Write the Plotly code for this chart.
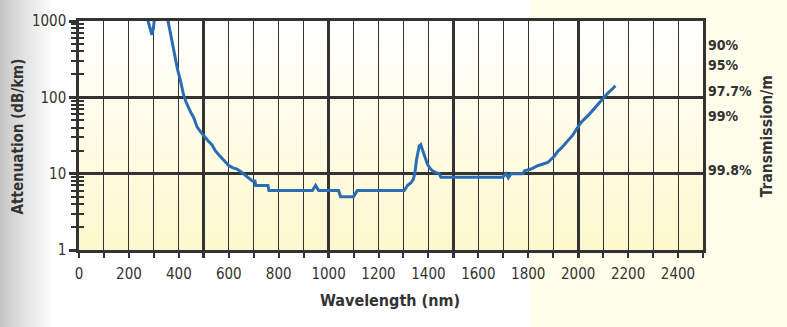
import plotly.graph_objects as go

# Attenuation spectrum of the fibre (dB/km versus wavelength in nm)
wavelength_nm = [
    270, 283, 292, 298, 303,
    352, 358, 365, 372, 379, 386, 395, 406, 412, 419, 428, 439, 448, 459, 466,
    473, 488, 502, 517, 533, 546, 559, 572, 586, 600, 615, 633, 650, 665, 680,
    695, 705, 708, 757, 761, 935, 948, 960, 1040, 1048, 1100, 1115, 1303, 1316,
    1330, 1340, 1346, 1352, 1358, 1363, 1369, 1375, 1383, 1396, 1406, 1416, 1430,
    1443, 1450, 1697, 1711, 1720, 1731, 1778, 1785, 1811, 1838, 1865, 1878, 1905,
    1918, 1932, 1955, 1978, 1995, 2012, 2045, 2072, 2099, 2119, 2135, 2149,
]
attenuation_db_km = [
    1200, 850, 660, 800, 1150,
    1200, 950, 760, 595, 430, 316, 230, 168, 135, 108, 88, 73, 63, 55, 47,
    41, 35, 30.5, 27, 23.8, 20, 17.8, 16, 14, 12.8, 12, 11.5, 10.5, 9.5, 8.6,
    8.0, 8.0, 7.0, 7.0, 6.0, 6.0, 7.0, 6.0, 6.0, 5.0, 5.0, 6.0, 6.0, 7.0,
    7.6, 8.5, 10.4, 15, 20, 23, 24, 21, 17, 13.3, 11.8, 10.9, 10.3,
    10.0, 9.0, 9.0, 10.0, 8.8, 10.0, 10.0, 10.9, 11.5, 12.7, 13.5, 14, 17,
    19.6, 21.6, 26, 31.9, 39, 47.3, 60.3, 77, 98, 114, 127, 142,
]

# Axis ticks
x_tick_vals = list(range(0, 2501, 100))
x_tick_text = [str(v) if v % 200 == 0 and v <= 2400 else "" for v in x_tick_vals]
x_major_vals = [500, 1000, 1500, 2000]
y_decades = [1, 10, 100, 1000]
y_minor_vals = [m * d for d in (1, 10, 100) for m in range(2, 10)]

# Transmission per metre shown on the right-hand axis
transmission_labels = ["90%", "95%", "97.7%", "99%", "99.8%"]
transmission_at_db_km = [485, 265, 120, 56, 11]

INK = "#333333"
LINE_BLUE = "#2a6db5"
FONT = "Liberation Sans Narrow, DejaVu Sans Condensed, Arial Narrow, sans-serif"

X_RANGE = [0, 2500]
Y_RANGE = [0, 3]  # log10 of 1 .. 1000


def mix(c1, c2, t):
    a = [int(c1[i:i + 2], 16) for i in (1, 3, 5)]
    b = [int(c2[i:i + 2], 16) for i in (1, 3, 5)]
    return "rgb(%d,%d,%d)" % tuple(round(a[k] + (b[k] - a[k]) * t) for k in range(3))


shapes = []
# pale yellow panel on the right of the page
shapes.append(dict(type="rect", xref="paper", yref="paper", x0=0.7228, x1=1.2,
                   y0=-0.4, y1=1.1, fillcolor="#fefde9", line_width=0, layer="below"))
# grey shading down the left edge of the page
n_side = 22
for i in range(n_side):
    x0 = -0.1266 + 0.0881 * i / n_side
    x1 = -0.1266 + 0.0881 * (i + 1) / n_side
    shapes.append(dict(type="rect", xref="paper", yref="paper", x0=x0 - 0.2 if i == 0 else x0,
                       x1=x1 + 0.001, y0=-0.4, y1=1.1,
                       fillcolor=mix("#c2c2c2", "#ffffff", ((i + 0.5) / n_side) ** 0.8),
                       line_width=0, layer="below"))
# plot area: white at the top fading to light yellow at the bottom
n_bg = 40
for i in range(n_bg):
    y0 = i / n_bg
    y1 = (i + 1) / n_bg
    shapes.append(dict(type="rect", xref="paper", yref="paper", x0=0, x1=1,
                       y0=y0, y1=min(1, y1 + 0.002),
                       fillcolor=mix("#fdf8cc", "#ffffff", (i + 0.5) / n_bg),
                       line_width=0, layer="below"))

fig = go.Figure()
fig.add_trace(go.Scatter(
    x=wavelength_nm, y=attenuation_db_km, mode="lines",
    line=dict(color=LINE_BLUE, width=3), showlegend=False, hoverinfo="skip",
))
# invisible traces so the overlay axes are laid out
fig.add_trace(go.Scatter(x=[0], y=[1], xaxis="x2", yaxis="y2", mode="markers",
                         marker=dict(opacity=0), showlegend=False, hoverinfo="skip"))
fig.add_trace(go.Scatter(x=[0], y=[1], xaxis="x", yaxis="y3", mode="markers",
                         marker=dict(opacity=0), showlegend=False, hoverinfo="skip"))

fig.update_layout(
    width=787, height=327,
    margin=dict(l=79, r=84, t=14, b=77),
    paper_bgcolor="#ffffff",
    plot_bgcolor="rgba(0,0,0,0)",
    font=dict(family=FONT, color=INK, size=15),
    shapes=shapes,
    xaxis=dict(
        range=X_RANGE, tickmode="array", tickvals=x_tick_vals, ticktext=x_tick_text,
        showgrid=True, gridcolor=INK, gridwidth=1,
        ticks="outside", ticklen=5, tickwidth=1.5, tickcolor=INK,
        showline=True, linecolor=INK, linewidth=2.5, mirror=True,
        zeroline=False, tickfont=dict(size=15, color=INK), ticklabelstandoff=3,
    ),
    xaxis2=dict(
        range=X_RANGE, overlaying="x", anchor="y", side="bottom",
        tickmode="array", tickvals=x_major_vals, showticklabels=False,
        showgrid=True, gridcolor=INK, gridwidth=2.5,
        ticks="outside", ticklen=7, tickwidth=2.5, tickcolor=INK,
        showline=False, zeroline=False,
    ),
    yaxis=dict(
        type="log", range=Y_RANGE, tickmode="array", tickvals=y_decades,
        ticktext=[str(v) for v in y_decades],
        showgrid=True, gridcolor=INK, gridwidth=2.5,
        ticks="outside", ticklen=7, tickwidth=2.5, tickcolor=INK,
        minor=dict(tickmode="array", tickvals=y_minor_vals, ticks="outside",
                   ticklen=5, tickwidth=1.5, tickcolor=INK, showgrid=False),
        showline=True, linecolor=INK, linewidth=2.5, mirror=True,
        zeroline=False, tickfont=dict(size=15, color=INK),
    ),
    yaxis2=dict(
        type="log", range=Y_RANGE, overlaying="y", side="right", anchor="x2",
        tickmode="array", tickvals=transmission_at_db_km, ticktext=transmission_labels,
        showgrid=False, ticks="", showline=False, zeroline=False,
        tickfont=dict(size=14, color=INK, weight="bold"), ticklabelstandoff=4,
    ),
    yaxis3=dict(
        type="log", range=Y_RANGE, overlaying="y", side="left", anchor="x",
        tickmode="array", tickvals=y_minor_vals, showticklabels=False,
        showgrid=False, ticks="inside", ticklen=5, tickwidth=1.5, tickcolor=INK,
        showline=False, zeroline=False,
    ),
    annotations=[
        dict(text="<b>Wavelength (nm)</b>", xref="paper", yref="paper",
             x=0.498, y=-0.22, showarrow=False, font=dict(size=16, color=INK),
             xanchor="center", yanchor="middle"),
        dict(text="<b>Attenuation (dB/km)</b>", xref="paper", yref="paper",
             x=-0.0978, y=0.496, showarrow=False, textangle=-90,
             font=dict(size=15, color=INK), xanchor="center", yanchor="middle"),
        dict(text="<b>Transmission/m</b>", xref="paper", yref="paper",
             x=1.104, y=0.496, showarrow=False, textangle=-90,
             font=dict(size=15.5, color=INK), xanchor="center", yanchor="middle"),
    ],
)

fig.write_html("out.html")
